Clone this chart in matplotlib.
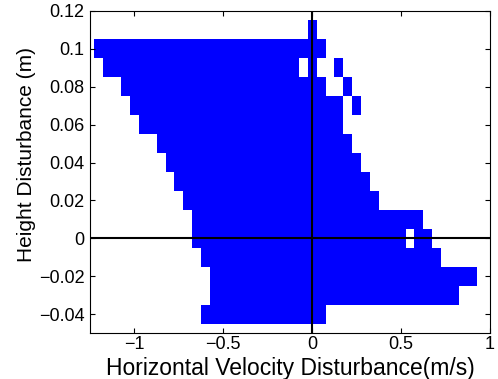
import numpy as np
import matplotlib
matplotlib.use("Agg")
import matplotlib.pyplot as plt
from matplotlib.colors import ListedColormap

plt.rcParams['font.family'] = ['Liberation Sans', 'DejaVu Sans']

# grid cell centres (velocity step 0.05, height step 0.01)
vel_centers = np.round(np.arange(-1.2, 0.9001, 0.05), 2)
heights = [0.11, 0.10, 0.09, 0.08, 0.07, 0.06, 0.05, 0.04, 0.03, 0.02,
           0.01, 0.00, -0.01, -0.02, -0.03, -0.04]
# filled velocity ranges (first cell, last cell) for each height row
segments = [
    [(0.0, 0.0)],
    [(-1.2, 0.05)],
    [(-1.15, -0.1), (0.0, 0.0), (0.15, 0.15)],
    [(-1.05, 0.05), (0.2, 0.2)],
    [(-1.0, 0.15), (0.25, 0.25)],
    [(-0.95, 0.15)],
    [(-0.85, 0.2)],
    [(-0.8, 0.25)],
    [(-0.75, 0.3)],
    [(-0.7, 0.35)],
    [(-0.65, 0.6)],
    [(-0.65, 0.5), (0.6, 0.65)],
    [(-0.6, 0.7)],
    [(-0.55, 0.9)],
    [(-0.55, 0.8)],
    [(-0.6, 0.05)],
]

grid = np.zeros((len(heights), len(vel_centers)))
for i, segs in enumerate(segments):
    for lo, hi in segs:
        grid[i, (vel_centers >= lo - 1e-9) & (vel_centers <= hi + 1e-9)] = 1
grid = np.ma.masked_equal(grid, 0)

x_edges = np.append(vel_centers - 0.025, vel_centers[-1] + 0.025)
h = np.array(heights)
y_edges = np.append(h + 0.005, h[-1] - 0.005)

fig = plt.figure(figsize=(4.98, 3.79), dpi=100)
ax = fig.add_axes([0.1807, 0.1214, 0.8033, 0.8496])
ax.pcolormesh(x_edges, y_edges, grid, cmap=ListedColormap(['#0000ff']),
              shading='flat', antialiased=False, linewidth=0)
ax.axhline(0, color='k', lw=1.5)
ax.axvline(0, color='k', lw=1.5)

ax.set_xlim(-1.25, 1)
ax.set_ylim(-0.05, 0.12)
xt = [-1, -0.5, 0, 0.5, 1]
yt = [-0.04, -0.02, 0, 0.02, 0.04, 0.06, 0.08, 0.1, 0.12]
ax.set_xticks(xt)
ax.set_xticklabels(['%g' % v if v >= 0 else '\u2212%g' % -v for v in xt])
ax.set_yticks(yt)
ax.set_yticklabels(['%g' % v if v >= 0 else '\u2212%g' % -v for v in yt])
ax.tick_params(direction='in', top=True, right=True, length=3.5, width=0.8,
               labelsize=13, pad=4)
ax.tick_params(axis='x', pad=2.5)
for s in ax.spines.values():
    s.set_linewidth(0.8)

ax.set_xlabel('Horizontal Velocity Disturbance(m/s)', fontsize=16.5)
ax.xaxis.set_label_coords(0.5, -0.075)
ax.set_ylabel('Height Disturbance (m)', fontsize=15)
ax.yaxis.set_label_coords(-0.135, 0.553)

fig.savefig('out.png', dpi=100)
